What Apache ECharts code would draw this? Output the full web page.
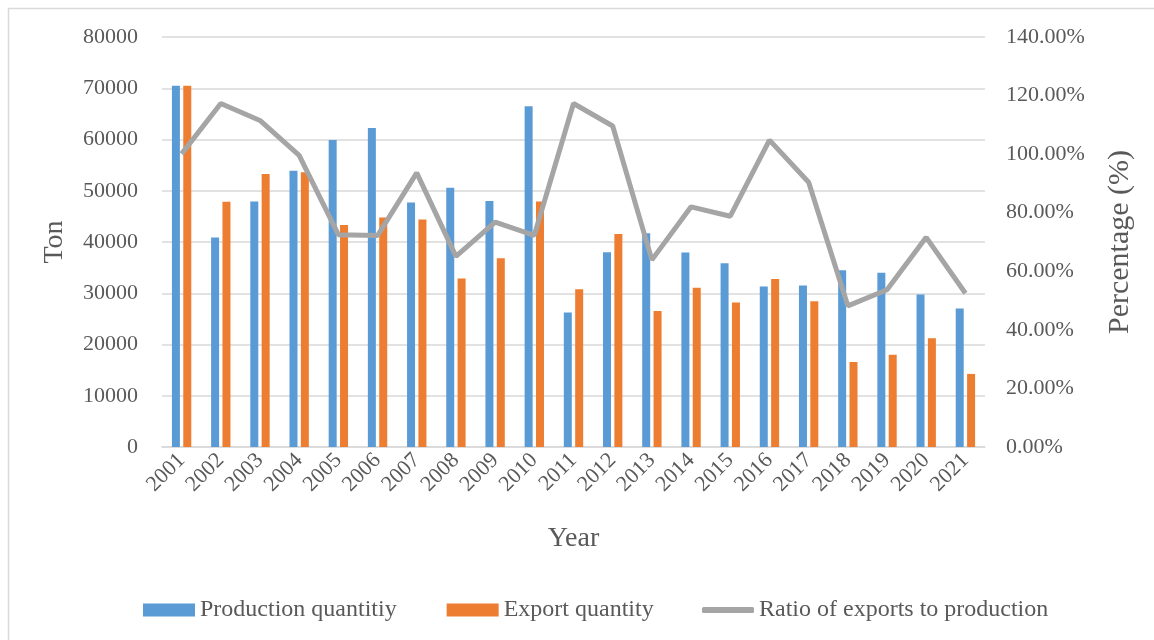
<!DOCTYPE html>
<html>
<head>
<meta charset="utf-8">
<script src="https://cdn.jsdelivr.net/npm/echarts@6/dist/echarts.min.js"></script>
<style>
html,body{margin:0;padding:0;background:#fff;}
#chart{width:1154px;height:640px;}
</style>
</head>
<body>
<div id="chart"></div>
<script>
const years = ['2001','2002','2003','2004','2005','2006','2007','2008','2009','2010','2011','2012','2013','2014','2015','2016','2017','2018','2019','2020','2021'];
const production = [70500,40900,47900,53900,59900,62250,47700,50600,48000,66500,26250,38000,41700,37960,35870,31300,31500,34500,34000,29770,27030];
const exportQty = [70500,47850,53260,53600,43300,44800,44400,32900,36850,47900,30800,41550,26560,31050,28200,32800,28450,16600,18000,21230,14260];
const ratio = [100.1,117.3,111.5,99.6,72.5,72.2,93.6,65.1,76.8,72.3,117.3,109.6,63.9,82.0,78.8,104.8,90.4,48.2,53.7,71.6,52.5];

const font = 'Liberation Serif';
const txt = '#595959';
const chart = echarts.init(document.getElementById('chart'));
chart.setOption({
  animation: false,
  backgroundColor: '#fff',
  textStyle: {fontFamily: font},
  graphic: [{
    type: 'polyline',
    shape: {points: [[8.5, 640], [8.5, 8.5], [1154, 8.5]]},
    style: {stroke: '#D9D9D9', lineWidth: 1.5, fill: null}
  }],
  grid: {left: 162, right: 169, top: 37, bottom: 193},
  legend: [{
    left: 138, top: 593,
    itemWidth: 52, itemHeight: 13, itemGap: 50,
    textStyle: {fontFamily: font, fontSize: 24, color: txt},
    data: [
      {name: 'Production quantitiy', icon: 'rect'},
      {name: 'Export quantity', icon: 'rect'}
    ]
  }, {
    left: 697, top: 593,
    itemWidth: 52, itemHeight: 6,
    textStyle: {fontFamily: font, fontSize: 24, color: txt},
    data: [{name: 'Ratio of exports to production', icon: 'roundRect'}]
  }],
  xAxis: {
    type: 'category', data: years,
    name: 'Year', nameLocation: 'middle', nameGap: 78,
    nameTextStyle: {fontFamily: font, fontSize: 28, color: txt},
    axisLine: {lineStyle: {color: '#D9D9D9', width: 1.5}},
    axisTick: {show: false},
    axisLabel: {interval: 0, rotate: 45, margin: 10, fontFamily: font, fontSize: 22, color: txt}
  },
  yAxis: [{
    type: 'value', min: 0, max: 80000, interval: 10000,
    name: 'Ton', nameLocation: 'middle', nameGap: 93, nameRotate: 90,
    nameTextStyle: {fontFamily: font, fontSize: 28, color: txt},
    axisLine: {show: false}, axisTick: {show: false},
    axisLabel: {margin: 24, fontFamily: font, fontSize: 22, color: txt,
      formatter: v => String(v)},
    splitLine: {lineStyle: {color: '#D9D9D9', width: 1.5}}
  }, {
    type: 'value', min: 0, max: 140, interval: 20,
    name: 'Percentage (%)', nameLocation: 'middle', nameGap: 120, nameRotate: 90,
    nameTextStyle: {fontFamily: font, fontSize: 30, color: txt},
    axisLine: {show: false}, axisTick: {show: false},
    axisLabel: {margin: 21, fontFamily: font, fontSize: 22, color: txt,
      formatter: v => v.toFixed(2) + '%'},
    splitLine: {show: false}
  }],
  series: [{
    name: 'Production quantitiy', type: 'bar', data: production,
    barWidth: 8, barGap: '42%',
    itemStyle: {color: '#5B9BD5'}
  }, {
    name: 'Export quantity', type: 'bar', data: exportQty,
    barWidth: 8,
    itemStyle: {color: '#ED7D31'}
  }, {
    name: 'Ratio of exports to production', type: 'line', yAxisIndex: 1, data: ratio,
    symbol: 'none', lineStyle: {color: '#A5A5A5', width: 5}, itemStyle: {color: '#A5A5A5'}
  }]
});
</script>
</body>
</html>
